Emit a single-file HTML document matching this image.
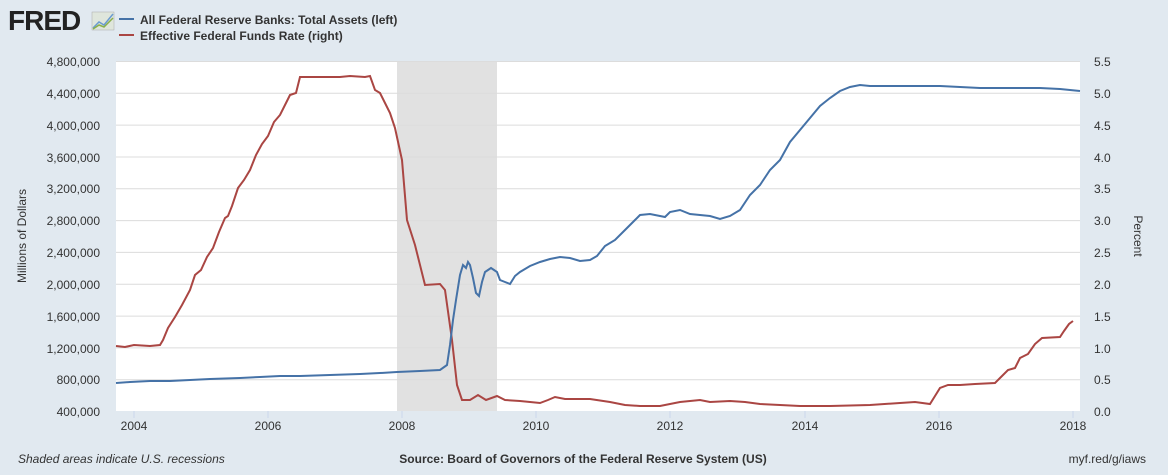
<!DOCTYPE html>
<html><head><style>
body{margin:0;background:#e1e9f0;font-family:"Liberation Sans",Arial,sans-serif;}
</style></head><body>
<svg width="1168" height="470" xmlns="http://www.w3.org/2000/svg" font-family="Liberation Sans, Arial, sans-serif">
<rect width="1168" height="470" fill="#e1e9f0"/>
<text x="8" y="30" font-size="28" font-weight="bold" fill="#222" letter-spacing="-1">FRED</text>
<rect x="92" y="12" width="22" height="18" fill="#dfe6dc" stroke="#aaa" stroke-width="0.5"/>
<polyline points="93,28 99,22 104,25 113,14" fill="none" stroke="#6a9bd0" stroke-width="1.5"/>
<polyline points="93,29 99,25 104,27 113,18" fill="none" stroke="#8ab04a" stroke-width="1.5"/>
<line x1="119" y1="19" x2="134" y2="19" stroke="#4572a7" stroke-width="2"/>
<line x1="119" y1="35" x2="134" y2="35" stroke="#aa4643" stroke-width="2"/>
<text x="140" y="24" font-size="12" font-weight="bold" fill="#333">All Federal Reserve Banks: Total Assets (left)</text>
<text x="140" y="40" font-size="12" font-weight="bold" fill="#333">Effective Federal Funds Rate (right)</text>
<rect x="116" y="61" width="964" height="350" fill="#fff"/>
<rect x="397" y="61" width="100" height="350" fill="#e1e1e1"/>
<g stroke="#dcdcdc" stroke-width="1">
<line x1="116" x2="1080" y1="61.5" y2="61.5"/><line x1="116" x2="1080" y1="93.3" y2="93.3"/><line x1="116" x2="1080" y1="125.1" y2="125.1"/><line x1="116" x2="1080" y1="157" y2="157"/><line x1="116" x2="1080" y1="188.8" y2="188.8"/><line x1="116" x2="1080" y1="220.6" y2="220.6"/><line x1="116" x2="1080" y1="252.4" y2="252.4"/><line x1="116" x2="1080" y1="284.3" y2="284.3"/><line x1="116" x2="1080" y1="316.1" y2="316.1"/><line x1="116" x2="1080" y1="347.9" y2="347.9"/><line x1="116" x2="1080" y1="379.7" y2="379.7"/>
</g>
<g font-size="12" fill="#333" text-anchor="end">
<text x="100" y="66">4,800,000</text><text x="100" y="98">4,400,000</text><text x="100" y="130">4,000,000</text><text x="100" y="162">3,600,000</text><text x="100" y="193">3,200,000</text><text x="100" y="225">2,800,000</text><text x="100" y="257">2,400,000</text><text x="100" y="289">2,000,000</text><text x="100" y="321">1,600,000</text><text x="100" y="353">1,200,000</text><text x="100" y="384">800,000</text><text x="100" y="416">400,000</text>
</g>
<g font-size="12" fill="#333">
<text x="1094" y="66">5.5</text><text x="1094" y="98">5.0</text><text x="1094" y="130">4.5</text><text x="1094" y="162">4.0</text><text x="1094" y="193">3.5</text><text x="1094" y="225">3.0</text><text x="1094" y="257">2.5</text><text x="1094" y="289">2.0</text><text x="1094" y="321">1.5</text><text x="1094" y="353">1.0</text><text x="1094" y="384">0.5</text><text x="1094" y="416">0.0</text>
</g>
<g font-size="12" fill="#333" text-anchor="middle">
<text x="134" y="430">2004</text><text x="268" y="430">2006</text><text x="402" y="430">2008</text><text x="536" y="430">2010</text><text x="670" y="430">2012</text><text x="805" y="430">2014</text><text x="939" y="430">2016</text><text x="1073" y="430">2018</text>
</g>
<g stroke="#ccd6eb"><line x1="134" x2="134" y1="411" y2="418"/><line x1="268" x2="268" y1="411" y2="418"/><line x1="402" x2="402" y1="411" y2="418"/><line x1="536" x2="536" y1="411" y2="418"/><line x1="670" x2="670" y1="411" y2="418"/><line x1="805" x2="805" y1="411" y2="418"/><line x1="939" x2="939" y1="411" y2="418"/><line x1="1073" x2="1073" y1="411" y2="418"/></g>
<text transform="translate(26,236) rotate(-90)" font-size="12" fill="#333" text-anchor="middle">Millions of Dollars</text>
<text transform="translate(1134,236) rotate(90)" font-size="12" fill="#333" text-anchor="middle">Percent</text>
<polyline fill="none" stroke="#aa4643" stroke-width="2" points="116,346 125,347 134,345 150,346 160,345 163,340 168,328 175,317 182,305 190,290 195,275 201,270 207,257 213,248 219,232 225,218 228,216 232,206 238,188 244,180 250,170 256,155 262,144 268,136 274,122 280,115 286,103 290,95 296,93 300,77 310,77 320,77 340,77 350,76 365,77 370,76 375,90 380,93 385,103 390,113 395,128 402,160 407,220 415,245 425,285 440,284 445,290 452,340 457,385 462,400 470,400 478,395 486,400 497,396 505,400 520,401 540,403 548,400 555,397 565,399 590,399 610,402 625,405 640,406 660,406 680,402 700,400 710,402 730,401 745,402 760,404 780,405 800,406 830,406 870,405 900,403 915,402 930,404 935,396 940,388 948,385 960,385 975,384 995,383 1000,378 1008,370 1015,368 1020,358 1028,354 1035,344 1042,338 1060,337 1064,331 1069,324 1073,321"/>
<polyline fill="none" stroke="#4572a7" stroke-width="2" points="116,383 130,382 150,381 170,381 190,380 210,379 240,378 260,377 280,376 300,376 330,375 360,374 380,373 397,372 420,371 440,370 447,365 450,345 453,320 456,300 460,275 463,265 466,268 468,262 470,265 473,278 476,293 479,296 482,282 485,272 488,270 491,268 494,270 497,272 500,280 505,282 510,284 515,276 520,272 530,266 540,262 550,259 560,257 570,258 580,261 590,260 597,256 605,246 615,240 625,230 635,220 640,215 650,214 660,216 665,217 670,212 680,210 690,214 700,215 710,216 720,219 730,216 740,210 750,195 760,185 770,170 780,160 790,142 800,130 810,118 820,106 830,98 840,91 850,87 860,85 870,86 880,86 900,86 920,86 940,86 960,87 980,88 1000,88 1020,88 1040,88 1060,89 1080,91"/>
<text x="18" y="463" font-size="12" font-style="italic" fill="#333">Shaded areas indicate U.S. recessions</text>
<text x="583" y="463" font-size="12" font-weight="bold" fill="#333" text-anchor="middle">Source: Board of Governors of the Federal Reserve System (US)</text>
<text x="1146" y="463" font-size="12" fill="#333" text-anchor="end">myf.red/g/iaws</text>
</svg>
</body></html>
